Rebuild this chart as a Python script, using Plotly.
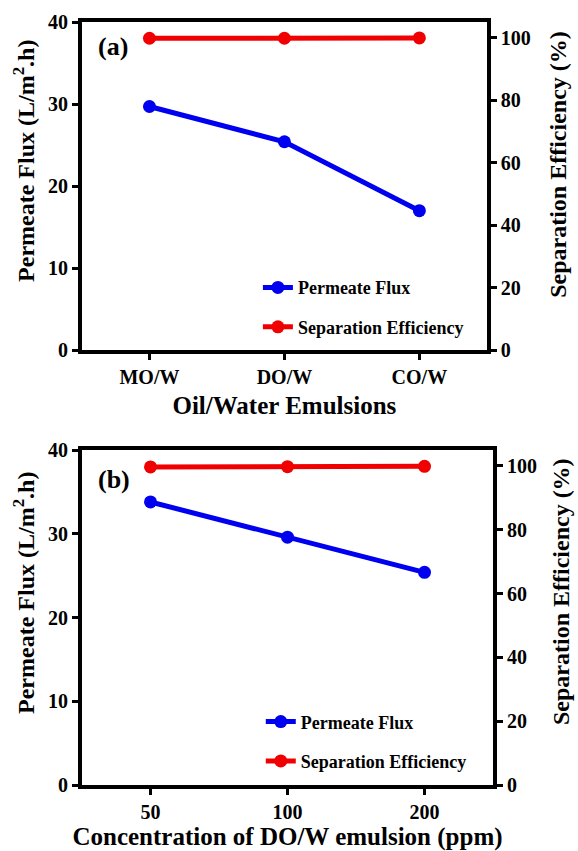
import plotly.graph_objects as go

# Data
cats_a = ["MO/W", "DO/W", "CO/W"]
flux_a = [29.7, 25.4, 17.0]
eff_a = [99.8, 99.8, 99.9]

cats_b = ["50", "100", "200"]
flux_b = [33.8, 29.6, 25.4]
eff_b = [99.7, 99.8, 99.9]

left_ticks = [0, 10, 20, 30, 40]
right_ticks = [0, 20, 40, 60, 80, 100]

FONT = "'Liberation Serif', 'Times New Roman', 'DejaVu Serif', serif"
BLUE = "#0000F0"
RED = "#F00000"

fig = go.Figure()

def add_pair(x, flux, eff, xa, ya, ya2, leg):
    fig.add_trace(go.Scatter(x=x, y=flux, name="Permeate Flux", mode="lines+markers",
                             line=dict(color=BLUE, width=5), marker=dict(color=BLUE, size=13),
                             xaxis=xa, yaxis=ya, legend=leg, legendgroup=leg + "f"))
    fig.add_trace(go.Scatter(x=x, y=eff, name="Separation Efficiency", mode="lines+markers",
                             line=dict(color=RED, width=5), marker=dict(color=RED, size=13),
                             xaxis=xa, yaxis=ya2, legend=leg, legendgroup=leg + "e"))

add_pair(cats_a, flux_a, eff_a, "x", "y", "y2", "legend")
add_pair(cats_b, flux_b, eff_b, "x2", "y3", "y4", "legend2")

tickfont = dict(family=FONT, size=20, color="black", weight="bold")
titlefont = dict(family=FONT, size=24, color="black", weight="bold")
xtitlefont = dict(family=FONT, size=25, color="black", weight="bold")
axcommon = dict(showline=True, linecolor="black", linewidth=4, ticks="outside",
                tickwidth=3, ticklen=6, tickcolor="black", showgrid=False,
                zeroline=False, tickfont=tickfont, automargin=False)
legfont = dict(family=FONT, size=18, color="black", weight="bold")

def vtitle(text, x, y):
    return dict(text=text, x=x, y=y, xref="paper", yref="paper", xanchor="center",
                yanchor="middle", textangle=-90, showarrow=False, font=titlefont)

fig.update_layout(
    width=578, height=851,
    margin=dict(l=82, r=85, t=22, b=66),
    paper_bgcolor="white", plot_bgcolor="white",
    font=dict(family=FONT, color="black"),
    xaxis=dict(**axcommon, type="category", categoryorder="array", categoryarray=cats_a,
               range=[-0.5, 2.5], domain=[0, 0.985], anchor="y", mirror=True,
               title=dict(text="Oil/Water Emulsions", font=xtitlefont, standoff=10)),
    yaxis=dict(**axcommon, range=[0, 40], tickvals=left_ticks, domain=[0.570, 1.0], anchor="x"),
    yaxis2=dict(**axcommon, range=[0, 105], tickvals=right_ticks, overlaying="y", side="right",
                anchor="x"),
    xaxis2=dict(**axcommon, type="category", categoryorder="array", categoryarray=cats_b,
                range=[-0.5, 2.5], domain=[0, 1.0], anchor="y3", mirror=True,
                title=dict(text="Concentration of DO/W emulsion (ppm)", font=xtitlefont, standoff=10)),
    yaxis3=dict(**axcommon, range=[0, 40], tickvals=left_ticks, domain=[0.0, 0.439], anchor="x2"),
    yaxis4=dict(**axcommon, range=[0, 105], tickvals=right_ticks, overlaying="y3", side="right",
                anchor="x2"),
    legend=dict(x=0.428, y=0.676, xanchor="left", yanchor="top", bgcolor="rgba(0,0,0,0)",
                font=legfont, traceorder="grouped", tracegroupgap=13),
    legend2=dict(x=0.435, y=0.107, xanchor="left", yanchor="top", bgcolor="rgba(0,0,0,0)",
                 font=legfont, traceorder="grouped", tracegroupgap=13),
    annotations=[
        dict(text="(a)", x=0.035, y=0.968, xref="paper", yref="paper", xanchor="left",
             yanchor="middle", showarrow=False,
             font=dict(family=FONT, size=26, color="black", weight="bold")),
        dict(text="(b)", x=0.035, y=0.401, xref="paper", yref="paper", xanchor="left",
             yanchor="middle", showarrow=False,
             font=dict(family=FONT, size=26, color="black", weight="bold")),
        vtitle("Permeate Flux (L/m<sup>2</sup>.h)", -0.141, 0.818),
        vtitle("Separation Efficiency (%)", 1.158, 0.814),
        vtitle("Permeate Flux (L/m<sup>2</sup>.h)", -0.143, 0.252),
        vtitle("Separation Efficiency (%)", 1.165, 0.254),
    ],
)

fig.write_html("out.html")
